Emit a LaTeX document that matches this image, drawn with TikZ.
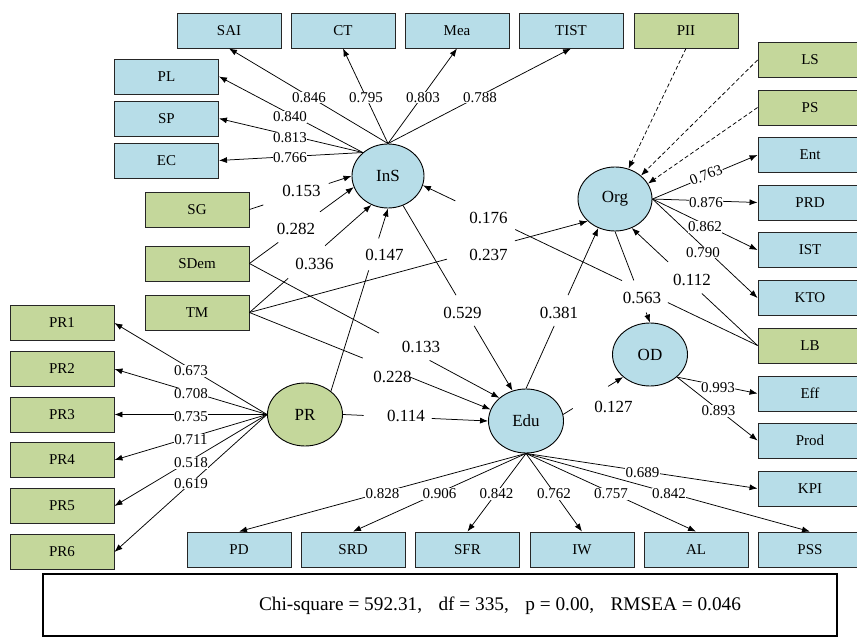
\documentclass[tikz,border=0pt]{standalone}
\usepackage{fontspec}
\setmainfont{Liberation Serif}
\usetikzlibrary{arrows.meta,shapes.geometric}
\definecolor{indblue}{HTML}{B7DDE8}
\definecolor{indgreen}{HTML}{C4D79B}
% connector broken by a gap (label sits in the gap)
\newcommand\gapcon[5][]{%
  \path (#2) -- (#3) coordinate[pos=#4] (gpA) coordinate[pos=#5] (gpB);
  \draw[conn,#1] (#2) -- (gpA);
  \draw[conn,arr,#1] (gpB) -- (#3);}
\begin{document}
\begin{tikzpicture}[x=1pt,y=-1pt,
  obsbox/.style={draw=black!85, line width=0.9pt, minimum width=104pt, minimum height=35pt, inner sep=0pt, font=\fontsize{15}{18}\selectfont},
  bluebox/.style={obsbox, fill=indblue},
  greenbox/.style={obsbox, fill=indgreen},
  latent/.style={ellipse, draw=black, line width=0.9pt, inner sep=0pt, font=\fontsize{17}{20}\selectfont},
  conn/.style={line width=0.75pt},
  arr/.style={-{Latex[length=8pt,width=6pt]}},
  dashconn/.style={conn, arr, dash pattern=on 4pt off 2.5pt},
  lbl/.style={fill=white, inner sep=0.5pt, font=\fontsize{15}{15}\selectfont},
  slbl/.style={inner sep=0.5pt, font=\fontsize{17}{17}\selectfont},
  statbox/.style={draw=black, line width=1.5pt, minimum width=794pt, minimum height=62pt, inner sep=0pt}]
\useasboundingbox (0,0) rectangle (857,639);

% ---------- observed boxes ----------
\node[bluebox] (SAI) at (229,30.5) {SAI};
\node[bluebox] (CT) at (343,30.5) {CT};
\node[bluebox] (Mea) at (457,30.5) {Mea};
\node[bluebox] (TIST) at (571,30.5) {TIST};
\node[greenbox] (PII) at (686,30.5) {PII};

\node[bluebox] (PL) at (166.5,76.5) {PL};
\node[bluebox] (SP) at (166.5,118.5) {SP};
\node[bluebox] (EC) at (166.5,160.5) {EC};

\node[greenbox] (SG) at (197,209.5) {SG};
\node[greenbox] (SDem) at (197,263.5) {SDem};
\node[greenbox] (TM) at (197,312.5) {TM};

\node[greenbox] (PR1) at (62,323) {PR1};
\node[greenbox] (PR2) at (62,369) {PR2};
\node[greenbox] (PR3) at (62,414.5) {PR3};
\node[greenbox] (PR4) at (62,460) {PR4};
\node[greenbox] (PR5) at (62,506) {PR5};
\node[greenbox] (PR6) at (62,552) {PR6};

\node[greenbox] (LS) at (810,60) {LS};
\node[greenbox] (PS) at (810,107.5) {PS};
\node[bluebox] (Ent) at (810,155) {Ent};
\node[bluebox] (PRD) at (810,202.5) {PRD};
\node[bluebox] (IST) at (810,250) {IST};
\node[bluebox] (KTO) at (810,298) {KTO};
\node[greenbox] (LB) at (810,345.5) {LB};
\node[bluebox] (Eff) at (810,393.5) {Eff};
\node[bluebox] (Prod) at (810,440.5) {Prod};
\node[bluebox] (KPI) at (810,488.5) {KPI};

\node[bluebox] (PD) at (239,549.5) {PD};
\node[bluebox] (SRD) at (353,549.5) {SRD};
\node[bluebox] (SFR) at (467.5,549.5) {SFR};
\node[bluebox] (IW) at (582,549.5) {IW};
\node[bluebox] (AL) at (696,549.5) {AL};
\node[bluebox] (PSS) at (810,549.5) {PSS};

% ---------- latent variables ----------
\node[latent, fill=indblue, minimum width=72pt, minimum height=64pt] (InS) at (388,176) {InS};
\node[latent, fill=indblue, minimum width=74pt, minimum height=64pt] (Org) at (615,199) {Org};
\node[latent, fill=indblue, minimum width=75pt, minimum height=63pt] (OD) at (650,354.5) {OD};
\node[latent, fill=indblue, minimum width=75pt, minimum height=64pt] (Edu) at (526,421) {Edu};
\node[latent, fill=indgreen, minimum width=75pt, minimum height=63pt] (PR) at (305,414.5) {PR};

% ---------- measurement connectors ----------
\foreach \t in {SAI,CT,Mea,TIST} \draw[conn,arr] (InS.north) -- (\t.south);
\foreach \t in {PL,SP,EC} \draw[conn,arr] (InS.137) -- (\t.east);
\foreach \t in {PR1,PR2,PR3,PR4,PR5,PR6} \draw[conn,arr] (PR.west) -- (\t.east);
\foreach \t in {Ent,PRD,IST,KTO} \draw[conn,arr] (Org.east) -- (\t.west);
\foreach \t in {Eff,Prod} \draw[conn,arr] (OD.320) -- (\t.west);
\foreach \t in {PD,SRD,SFR,IW,AL,PSS} \draw[conn,arr] (Edu.south) -- (\t.north);
\draw[conn,arr] (Edu.south) -- (KPI.west);

\draw[dashconn] (PII.south) -- (Org.66);
\draw[dashconn] (LS.west) -- (Org.42);
\draw[dashconn] (PS.west) -- (Org.25);

% ---------- structural connectors ----------
\gapcon{SG.east}{InS.west}{0.136}{0.777}
\gapcon{SDem.east}{InS.198}{0.276}{0.676}
\gapcon{TM.east}{InS.240}{0.318}{0.62}
\gapcon{PR.42}{InS.south}{0.661}{0.836}
\gapcon{TM.east}{Org.219}{0.584}{0.785}
\gapcon{SDem.east}{Edu.139}{0.518}{0.721}
\gapcon{TM.east}{Edu.162}{0.47}{0.664}
\gapcon{PR.east}{Edu.west}{0.143}{0.612}
\gapcon{InS.297}{Edu.114}{0.484}{0.65}
\gapcon{Edu.north}{Org.240}{0.39}{0.582}
\gapcon{LB.west}{Org.300}{0.443}{0.711}
\gapcon{Org.south}{OD.north}{0.538}{0.89}
\gapcon{Edu.10}{OD.220}{0.16}{0.75}
\path (LB.west) -- (InS.345) coordinate[pos=0.268] (lbA) coordinate[pos=0.405] (lbB)
  coordinate[pos=0.724] (lbC) coordinate[pos=0.903] (lbD);
\draw[conn] (LB.west) -- (lbA) (lbB) -- (lbC);
\draw[conn,arr] (lbD) -- (InS.345);

% ---------- loading labels ----------
\node[lbl] (l1) at (309,97.5) {0.846};
\node[lbl] (l2) at (366,97.5) {0.795};
\node[lbl] (l3) at (423,97.5) {0.803};
\node[lbl] (l4) at (480,97.5) {0.788};
\node[lbl] (l5) at (290,117) {0.840};
\node[lbl] (l6) at (290,137.5) {0.813};
\node[lbl] (l7) at (290,157.5) {0.766};

\node[lbl] (p1) at (191,371) {0.673};
\node[lbl] (p2) at (191,394) {0.708};
\node[lbl] (p3) at (191,417) {0.735};
\node[lbl] (p4) at (191,439.5) {0.711};
\node[lbl] (p5) at (191,463) {0.518};
\node[lbl] (p6) at (191,483.5) {0.619};

\node[lbl, rotate=22] (o1) at (706,175) {0.763};
\node[lbl] (o2) at (706,202.5) {0.876};
\node[lbl] (o3) at (705,227) {0.862};
\node[lbl] (o4) at (703,252.5) {0.790};
\node[lbl] (d1) at (718,388) {0.993};
\node[lbl] (d2) at (718.5,411) {0.893};

\node[lbl] (e1) at (382.5,494) {0.828};
\node[lbl] (e2) at (439.5,494) {0.906};
\node[lbl] (e3) at (496.5,494) {0.842};
\node[lbl] (e4) at (554,494) {0.762};
\node[lbl] (e5) at (611,494) {0.757};
\node[lbl] (e6) at (669,494) {0.842};
\node[lbl] (e7) at (642.5,473) {0.689};

% ---------- path coefficient labels ----------
\node[slbl] (s1) at (301.5,191) {0.153};
\node[slbl] (s2) at (296,229) {0.282};
\node[slbl] (s3) at (314.5,264) {0.336};
\node[slbl] (s4) at (384.5,255) {0.147};
\node[slbl] (s5) at (488.5,255) {0.237};
\node[slbl] (s6) at (488.5,217.5) {0.176};
\node[slbl] (s7) at (462.5,312.5) {0.529};
\node[slbl] (s8) at (559,312.5) {0.381};
\node[slbl] (s9) at (642,297.5) {0.563};
\node[slbl] (s10) at (692,279.5) {0.112};
\node[slbl] (s11) at (421,347) {0.133};
\node[slbl] (s12) at (392.5,376.5) {0.228};
\node[slbl] (s13) at (406,416) {0.114};
\node[slbl] (s14) at (613.5,406.5) {0.127};

% ---------- fit statistics ----------
\node[statbox] (stats) at (440,605) {};
\node[font=\fontsize{19.3}{23}\selectfont, inner sep=0pt] (statstext) at (500,606)
  {Chi-square = 592.31,\hspace{0.6em} df = 335,\hspace{0.6em} p = 0.00,\hspace{0.6em} RMSEA = 0.046};
\end{tikzpicture}
\end{document}
